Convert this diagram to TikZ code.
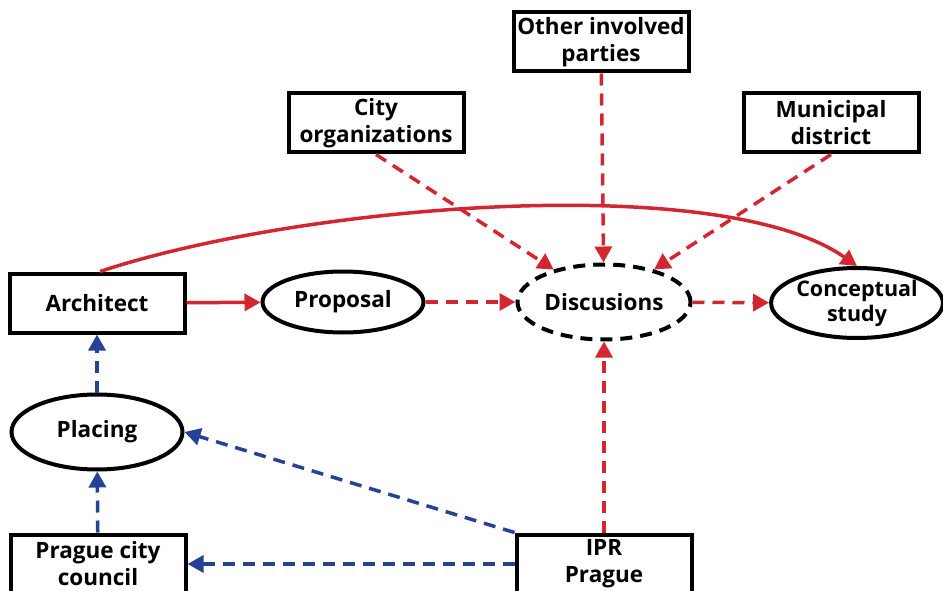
\documentclass[tikz,border=0pt]{standalone}
\usepackage{fontspec}
\setmainfont{Open Sans}
\usepackage{xcolor}
\usepackage{tikz}
\usetikzlibrary{shapes.geometric, arrows.meta, positioning}

\definecolor{flowred}{RGB}{210,38,48}
\definecolor{flowblue}{RGB}{38,66,150}

\begin{document}
\begin{tikzpicture}[
  x=1pt, y=-1pt,
  node distance=2cm and 1cm,
  box/.style={rectangle, draw, line width=4pt, fill=white,
              minimum width=175pt, minimum height=59pt, inner sep=2pt,
              align=center, font=\fontsize{22.5}{27}\selectfont\bfseries},
  oval/.style={ellipse, draw, line width=4pt, fill=white, inner sep=0pt,
              align=center, font=\fontsize{22.5}{27}\selectfont\bfseries},
  redline/.style={-{Triangle[length=16pt,width=17pt]}, line width=3.5pt, draw=flowred},
  reddash/.style={redline, dash pattern=on 12pt off 8pt},
  bluedash/.style={-{Triangle[length=16pt,width=17pt]}, line width=3.5pt, draw=flowblue,
              dash pattern=on 12pt off 8pt}
]
\useasboundingbox (0,0) rectangle (943,591);

% upper row of parties
\node[box] (othr) at (601,42)  {Other involved\\parties};
\node[box] (corg) at (376,123) {City\\organizations};
\node[box] (muni) at (831,123) {Municipal\\district};

% middle row
\node[box]  (arch) at (97,303) {Architect};
\node[oval, minimum width=161pt, minimum height=61pt] (prop) at (343,302) {Proposal};
\node[oval, minimum width=173pt, minimum height=75pt, dash pattern=on 12pt off 8pt] (disc) at (604,302) {Discusions};
\node[oval, minimum width=165pt, minimum height=70pt,
      font=\fontsize{21.5}{25}\selectfont\bfseries] (conc) at (857,303) {Conceptual\\study};

% left column and bottom row
\node[oval, minimum width=171pt, minimum height=75pt] (plac) at (97,432) {Placing};
\node[box] (coun) at (98,564) {Prague city\\council};
\node[box] (ipr)  at (604,564) {IPR\\Prague};

\draw[redline] (arch) -- (prop);
\draw[reddash] (prop) -- (disc);
\draw[reddash] (disc) -- (conc);
\draw[redline] ([xshift=3pt]arch.north) .. controls (300,205) and (720,170) .. (conc.north);
\draw[reddash] (corg.south) -- (disc);
\draw[reddash] (othr) -- (disc);
\draw[reddash] (muni.south) -- (disc);
\draw[reddash] (ipr) -- (disc);

\draw[bluedash] (ipr.north west) -- (plac.east);
\draw[bluedash] (ipr) -- (coun);
\draw[bluedash] (coun) -- (plac);
\draw[bluedash] (plac) -- (arch);

\end{tikzpicture}
\end{document}
